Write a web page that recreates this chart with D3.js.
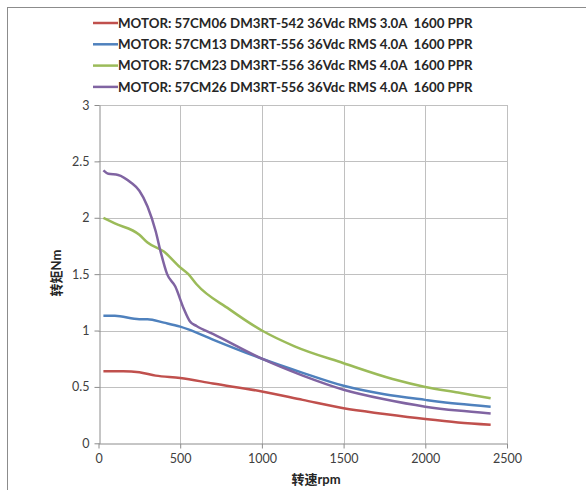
<!DOCTYPE html>
<html><head><meta charset="utf-8">
<script src="https://cdn.jsdelivr.net/npm/d3@7"></script>
<style>body{margin:0;background:#fff;} svg{display:block;} text{white-space:pre;}</style>
</head><body>
<svg id="c" width="586" height="490"></svg>
<script>
const seriesNames = [
  "MOTOR: 57CM06 DM3RT-542 36Vdc RMS 3.0A  1600 PPR",
  "MOTOR: 57CM13 DM3RT-556 36Vdc RMS 4.0A  1600 PPR",
  "MOTOR: 57CM23 DM3RT-556 36Vdc RMS 4.0A  1600 PPR",
  "MOTOR: 57CM26 DM3RT-556 36Vdc RMS 4.0A  1600 PPR"
];
const seriesColors = ["#C0504D", "#4F81BD", "#9BBB59", "#8064A2"];
const rpm57CM06 = [30, 150, 250, 350, 500, 700, 1000, 1250, 1500, 1750, 2000, 2200, 2400];
const nm57CM06  = [0.64, 0.64, 0.63, 0.60, 0.58, 0.53, 0.46, 0.385, 0.31, 0.26, 0.215, 0.185, 0.165];
const rpm57CM13 = [30, 100, 250, 300, 400, 500, 550, 700, 1000, 1250, 1500, 1750, 2000, 2200, 2400];
const nm57CM13  = [1.13, 1.13, 1.10, 1.10, 1.07, 1.035, 1.01, 0.92, 0.75, 0.625, 0.51, 0.435, 0.385, 0.35, 0.325];
const rpm57CM23 = [30, 100, 250, 300, 400, 500, 550, 600, 800, 1000, 1200, 1500, 1800, 2000, 2200, 2400];
const nm57CM23  = [2.0, 1.95, 1.85, 1.78, 1.70, 1.56, 1.50, 1.41, 1.19, 1.00, 0.86, 0.71, 0.57, 0.50, 0.45, 0.40];
const rpm57CM26 = [30, 60, 120, 200, 250, 300, 350, 380, 420, 470, 520, 560, 600, 700, 1000, 1250, 1500, 1750, 2000, 2200, 2400];
const nm57CM26  = [2.42, 2.39, 2.38, 2.31, 2.24, 2.10, 1.88, 1.70, 1.50, 1.39, 1.20, 1.08, 1.04, 0.97, 0.75, 0.60, 0.475, 0.39, 0.325, 0.29, 0.265];
const xTicks = [0, 500, 1000, 1500, 2000, 2500];
const yTicks = [0, 0.5, 1, 1.5, 2, 2.5, 3];
const xTitle = "转速rpm";
const yTitle = "转矩Nm";

const rpmSets = [rpm57CM06, rpm57CM13, rpm57CM23, rpm57CM26];
const nmSets = [nm57CM06, nm57CM13, nm57CM23, nm57CM26];

const svg = d3.select("#c");
const L = 98.5, R = 507, T = 105, B = 443.3;
const x = d3.scaleLinear().domain([0, 2500]).range([L, R]);
const y = d3.scaleLinear().domain([0, 3]).range([B, T]);

// outer chart border
svg.append("rect").attr("x", 7.5).attr("y", 7.5).attr("width", 600).attr("height", 500)
  .attr("fill", "none").attr("stroke", "#8c8c8c").attr("stroke-width", 1);

// gridlines
const g = svg.append("g");
g.selectAll("line.h").data(yTicks.filter(d => d > 0)).enter().append("line")
  .attr("x1", L).attr("x2", R).attr("y1", d => Math.round(y(d)) + 0.5).attr("y2", d => Math.round(y(d)) + 0.5)
  .attr("stroke", "#c0c0c0").attr("stroke-width", 1);
g.selectAll("line.v").data(xTicks.filter(d => d > 0)).enter().append("line")
  .attr("y1", T).attr("y2", B).attr("x1", d => Math.round(x(d)) + 0.5).attr("x2", d => Math.round(x(d)) + 0.5)
  .attr("stroke", "#c0c0c0").attr("stroke-width", 1);

// axes
const fontTick = "Lato, 'Liberation Sans', sans-serif";
const xAxis = svg.append("g").attr("transform", `translate(0,${Math.round(B) + 0.5})`)
  .call(d3.axisBottom(x).tickValues(xTicks).tickSize(5).tickSizeOuter(0).tickFormat(d3.format("d")));
const yAxis = svg.append("g").attr("transform", `translate(${Math.round(L) + 0.5},0)`)
  .call(d3.axisLeft(y).tickValues(yTicks).tickSize(5).tickSizeOuter(0).tickFormat(d => String(d)));
[xAxis, yAxis].forEach(a => {
  a.select(".domain").attr("stroke", "#8c8c8c");
  a.selectAll(".tick line").attr("stroke", "#8c8c8c");
  a.selectAll(".tick text").attr("fill", "#404040").attr("font-size", 12.5).attr("font-family", fontTick);
});
xAxis.selectAll(".tick text").attr("dy", "0.71em").attr("y", 11);
yAxis.selectAll(".tick text").attr("x", -10);

// axis titles
svg.append("text").attr("x", 316).attr("y", 484).attr("text-anchor", "middle")
  .attr("font-size", 13).attr("font-weight", "bold").attr("fill", "#262626")
  .attr("font-family", "Lato, 'Noto Sans CJK SC', sans-serif").text(xTitle);
svg.append("text").attr("transform", "translate(61,273) rotate(-90)").attr("text-anchor", "middle")
  .attr("font-size", 13).attr("font-weight", "bold").attr("fill", "#262626")
  .attr("font-family", "Lato, 'Noto Sans CJK SC', sans-serif").text(yTitle);

// lines
const line = d3.line().x(d => x(d[0])).y(d => y(d[1])).curve(d3.curveMonotoneX);
rpmSets.forEach((rs, i) => {
  const pts = rs.map((r, j) => [r, nmSets[i][j]]);
  svg.append("path").datum(pts).attr("d", line).attr("fill", "none")
    .attr("stroke", seriesColors[i]).attr("stroke-width", 2.5).attr("stroke-linejoin", "round");
});

// legend
const leg = svg.append("g");
seriesNames.forEach((n, i) => {
  const yy = 23 + i * 21.3;
  leg.append("line").attr("x1", 93).attr("x2", 118).attr("y1", yy).attr("y2", yy)
    .attr("stroke", seriesColors[i]).attr("stroke-width", 2.5);
  leg.append("text").attr("x", 118).attr("y", yy).attr("dy", "0.35em")
    .attr("font-size", 13.3).attr("font-weight", "bold").attr("fill", "#262626")
    .attr("font-family", "Lato, 'Liberation Sans', sans-serif").text(n);
});
</script>
</body></html>
